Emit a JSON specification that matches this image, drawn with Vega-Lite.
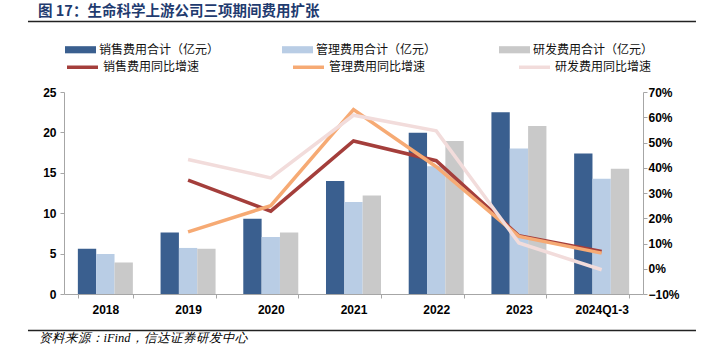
{
  "$schema": "https://vega.github.io/schema/vega-lite/v6.json",
  "autosize": {"type": "none"},
  "width": 579,
  "height": 202,
  "padding": {"left": 64, "top": 92, "right": 73, "bottom": 67},
  "background": "white",
  "config": {"view": {"stroke": null}},
  "title": {
    "text": "图 17：生命科学上游公司三项期间费用扩张",
    "anchor": "start",
    "frame": "group",
    "dx": -26,
    "offset": 1.5,
    "font": "Noto Sans CJK SC",
    "fontSize": 14.5,
    "fontWeight": "bold",
    "color": "#1F3B6F"
  },
  "datasets": {
    "bars": [
      {"year": "2018", "series": "销售费用合计（亿元）", "value": 5.6},
      {"year": "2018", "series": "管理费用合计（亿元）", "value": 4.95},
      {"year": "2018", "series": "研发费用合计（亿元）", "value": 3.9},
      {"year": "2019", "series": "销售费用合计（亿元）", "value": 7.6},
      {"year": "2019", "series": "管理费用合计（亿元）", "value": 5.7},
      {"year": "2019", "series": "研发费用合计（亿元）", "value": 5.6},
      {"year": "2020", "series": "销售费用合计（亿元）", "value": 9.3},
      {"year": "2020", "series": "管理费用合计（亿元）", "value": 7.05},
      {"year": "2020", "series": "研发费用合计（亿元）", "value": 7.6},
      {"year": "2021", "series": "销售费用合计（亿元）", "value": 14.0},
      {"year": "2021", "series": "管理费用合计（亿元）", "value": 11.4},
      {"year": "2021", "series": "研发费用合计（亿元）", "value": 12.2},
      {"year": "2022", "series": "销售费用合计（亿元）", "value": 19.95},
      {"year": "2022", "series": "管理费用合计（亿元）", "value": 15.8},
      {"year": "2022", "series": "研发费用合计（亿元）", "value": 18.95},
      {"year": "2023", "series": "销售费用合计（亿元）", "value": 22.5},
      {"year": "2023", "series": "管理费用合计（亿元）", "value": 18.0},
      {"year": "2023", "series": "研发费用合计（亿元）", "value": 20.8},
      {"year": "2024Q1-3", "series": "销售费用合计（亿元）", "value": 17.4},
      {"year": "2024Q1-3", "series": "管理费用合计（亿元）", "value": 14.25},
      {"year": "2024Q1-3", "series": "研发费用合计（亿元）", "value": 15.5}
    ],
    "lines": [
      {"year": "2019", "series": "销售费用同比增速", "rate": 0.351},
      {"year": "2020", "series": "销售费用同比增速", "rate": 0.228},
      {"year": "2021", "series": "销售费用同比增速", "rate": 0.506},
      {"year": "2022", "series": "销售费用同比增速", "rate": 0.428},
      {"year": "2023", "series": "销售费用同比增速", "rate": 0.131},
      {"year": "2024Q1-3", "series": "销售费用同比增速", "rate": 0.068},
      {"year": "2019", "series": "管理费用同比增速", "rate": 0.146},
      {"year": "2020", "series": "管理费用同比增速", "rate": 0.25},
      {"year": "2021", "series": "管理费用同比增速", "rate": 0.63},
      {"year": "2022", "series": "管理费用同比增速", "rate": 0.404},
      {"year": "2023", "series": "管理费用同比增速", "rate": 0.128},
      {"year": "2024Q1-3", "series": "管理费用同比增速", "rate": 0.062},
      {"year": "2019", "series": "研发费用同比增速", "rate": 0.433},
      {"year": "2020", "series": "研发费用同比增速", "rate": 0.36},
      {"year": "2021", "series": "研发费用同比增速", "rate": 0.608},
      {"year": "2022", "series": "研发费用同比增速", "rate": 0.546},
      {"year": "2023", "series": "研发费用同比增速", "rate": 0.102},
      {"year": "2024Q1-3", "series": "研发费用同比增速", "rate": -0.004}
    ],
    "rules": [
      {"x0": -0.0622, "x1": 1.0915, "y": 1.3495},
      {"x0": -0.0622, "x1": 1.0915, "y": -0.1802}
    ]
  },
  "layer": [
    {
      "layer": [
        {
          "data": {"name": "bars"},
          "mark": {"type": "bar"},
          "encoding": {
            "x": {
              "field": "year",
              "type": "nominal",
              "sort": null,
              "scale": {"domain": ["2018", "2019", "2020", "2021", "2022", "2023", "2024Q1-3"], "paddingInner": 0.335, "paddingOuter": 0.1675},
              "axis": {
                "orient": "bottom",
                "tickBand": "extent",
                "labelAngle": 0,
                "labelPadding": 6,
                "labelFont": "Liberation Sans",
                "labelFontSize": 12,
                "labelFontWeight": "bold",
                "labelColor": "#000000",
                "domainColor": "#A6A6A6",
                "tickColor": "#A6A6A6",
                "tickSize": 4,
                "title": "资料来源：iFind，信达证券研发中心",
                "titleAnchor": "start",
                "titleAlign": "left",
                "titleX": -26,
                "titleY": 37,
                "titleBaseline": "top",
                "titleFont": "Liberation Serif",
                "titleFontStyle": "italic",
                "titleFontWeight": "normal",
                "titleFontSize": 12.5,
                "titleColor": "#000000"
              }
            },
            "xOffset": {
              "field": "series",
              "type": "nominal",
              "sort": null,
              "scale": {"domain": ["销售费用合计（亿元）", "管理费用合计（亿元）", "研发费用合计（亿元）"], "paddingInner": 0, "paddingOuter": 0}
            },
            "y": {
              "field": "value",
              "type": "quantitative",
              "scale": {"domain": [0, 25], "nice": false},
              "axis": {
                "orient": "left",
                "values": [0, 5, 10, 15, 20, 25],
                "grid": false,
                "title": null,
                "domainColor": "#A6A6A6",
                "tickColor": "#A6A6A6",
                "tickSize": 4,
                "labelPadding": 4,
                "labelFont": "Liberation Sans",
                "labelFontSize": 12,
                "labelFontWeight": "bold",
                "labelColor": "#000000"
              }
            },
            "fill": {
              "field": "series",
              "type": "nominal",
              "sort": null,
              "scale": {"domain": ["销售费用合计（亿元）", "管理费用合计（亿元）", "研发费用合计（亿元）"], "range": ["#3A5F8F", "#B9CDE5", "#C9C9C9"]},
              "legend": {
                "orient": "none",
                "legendX": 1,
                "legendY": -58,
                "direction": "horizontal",
                "columns": 3,
                "columnPadding": 62,
                "padding": 0,
                "symbolType": "M-1,-0.23H1V0.23H-1Z",
                "symbolSize": 961,
                "symbolStrokeWidth": 0,
                "labelFont": "Noto Sans CJK SC",
                "labelFontSize": 12,
                "labelColor": "#111111",
                "labelOffset": 3,
                "labelLimit": 300,
                "title": null
              }
            }
          }
        },
        {
          "data": {"name": "lines"},
          "mark": {"type": "line", "strokeWidth": 3.5},
          "encoding": {
            "x": {"field": "year", "type": "nominal", "sort": null},
            "y": {
              "field": "rate",
              "type": "quantitative",
              "scale": {"domain": [-0.1, 0.7], "nice": false, "zero": false},
              "axis": {
                "orient": "right",
                "values": [-0.1, 0, 0.1, 0.2, 0.3, 0.4, 0.5, 0.6, 0.7],
                "format": ".0%",
                "grid": false,
                "title": null,
                "domainColor": "#A6A6A6",
                "tickColor": "#A6A6A6",
                "tickSize": 4,
                "labelPadding": 1,
                "labelFont": "Liberation Sans",
                "labelFontSize": 12,
                "labelFontWeight": "bold",
                "labelColor": "#000000"
              }
            },
            "stroke": {
              "field": "series",
              "type": "nominal",
              "sort": null,
              "scale": {"domain": ["销售费用同比增速", "管理费用同比增速", "研发费用同比增速"], "range": ["#A43E3B", "#F6AA74", "#F2DCDB"]},
              "legend": {
                "orient": "none",
                "legendX": 1,
                "legendY": -42.5,
                "direction": "horizontal",
                "columns": 3,
                "columnPadding": 86,
                "padding": 0,
                "symbolType": "stroke",
                "symbolSize": 961,
                "symbolStrokeWidth": 3.5,
                "labelFont": "Noto Sans CJK SC",
                "labelFontSize": 12,
                "labelColor": "#111111",
                "labelOffset": 3,
                "labelLimit": 300,
                "title": null
              }
            }
          }
        }
      ],
      "resolve": {"scale": {"y": "independent"}}
    },
    {
      "data": {"name": "rules"},
      "mark": {"type": "rule", "strokeWidth": 1.5, "color": "#222222"},
      "encoding": {
        "x": {"field": "x0", "type": "quantitative", "scale": {"domain": [0, 1], "nice": false, "zero": false}, "axis": null},
        "x2": {"field": "x1"},
        "y": {"field": "y", "type": "quantitative", "scale": {"domain": [0, 1], "nice": false, "zero": false}, "axis": null}
      }
    }
  ],
  "resolve": {"scale": {"x": "independent", "y": "independent"}}
}
